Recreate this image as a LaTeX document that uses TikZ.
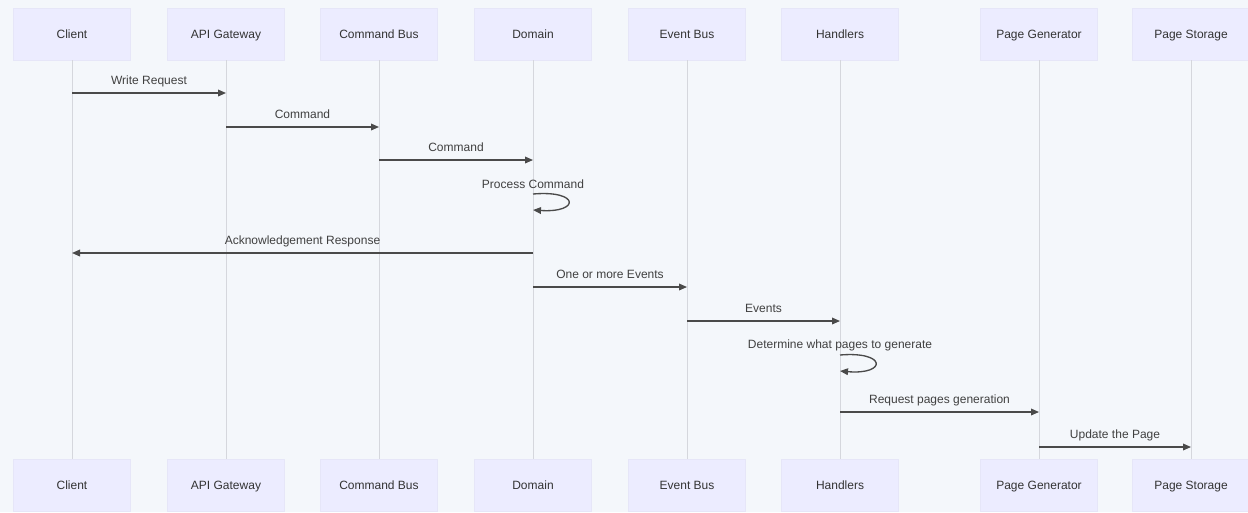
\documentclass[tikz,border=0pt]{standalone}
\usepackage{fontspec}
\setmainfont{Liberation Sans}
\usetikzlibrary{arrows.meta,calc,positioning}

\definecolor{bgcol}{HTML}{F4F7FB}
\definecolor{actorfill}{HTML}{ECECFF}
\definecolor{actorline}{HTML}{E6E6F8}
\definecolor{lifecol}{HTML}{D5D7DD}
\definecolor{msgcol}{HTML}{4A4A4A}

\begin{document}
\begin{tikzpicture}[x=0.75pt, y=-0.75pt,
  actor/.style={rectangle, fill=actorfill, draw=actorline, minimum width=87.75pt,
    minimum height=39pt, inner sep=0pt, text height=1.5ex, text depth=0.3ex,
    font=\fontsize{9}{11}\selectfont, text=black!80},
  life/.style={draw=lifecol, line width=0.7pt},
  msg/.style={draw=msgcol, line width=1pt, -{Triangle[length=6pt,width=5pt]}},
  lbl/.style={font=\fontsize{9}{11}\selectfont, text=black!75, inner sep=1pt,
    text height=1.5ex, text depth=0.3ex}]
  \useasboundingbox[fill=bgcol] (0,0) rectangle (1248,512);
  % participants, top and bottom, with their lifelines
  \foreach \n/\x/\t in {cl/72/Client, gw/226/API Gateway, cb/379/Command Bus,
      dm/533/Domain, eb/687/Event Bus, hd/840/Handlers, pg/1039/Page Generator,
      ps/1191/Page Storage}{
    \node[actor] (\n T) at (\x,34) {\t};
    \node[actor] (\n B) at (\x,485) {\t};
    \draw[life] (\n T) -- (\n B);
  }
  % messages
  \draw[msg] (clT |- 0,93) -- (gwT |- 0,93) node[lbl, midway, above=3pt] {Write Request};
  \draw[msg] (gwT |- 0,127) -- (cbT |- 0,127) node[lbl, midway, above=3pt] {Command};
  \draw[msg] (cbT |- 0,160) -- (dmT |- 0,160) node[lbl, midway, above=3pt] {Command};
  \node[lbl] (pc) at (dmT |- 0,184) {Process Command};
  \draw[msg] (dmT |- 0,194) .. controls (580,190) and (580,213) .. (dmT |- 0,210);
  \draw[msg] (dmT |- 0,253) -- (clT |- 0,253) node[lbl, midway, above=3pt] {Acknowledgement Response};
  \draw[msg] (dmT |- 0,287) -- (ebT |- 0,287) node[lbl, midway, above=3pt] {One or more Events};
  \draw[msg] (ebT |- 0,321) -- (hdT |- 0,321) node[lbl, midway, above=3pt] {Events};
  \node[lbl] (dt) at (hdT |- 0,344) {Determine what pages to generate};
  \draw[msg] (hdT |- 0,355) .. controls (887,351) and (887,375) .. (hdT |- 0,371);
  \draw[msg] (hdT |- 0,412) -- (pgT |- 0,412) node[lbl, midway, above=3pt] {Request pages generation};
  \draw[msg] (pgT |- 0,447) -- (psT |- 0,447) node[lbl, midway, above=3pt] {Update the Page};
\end{tikzpicture}
\end{document}
